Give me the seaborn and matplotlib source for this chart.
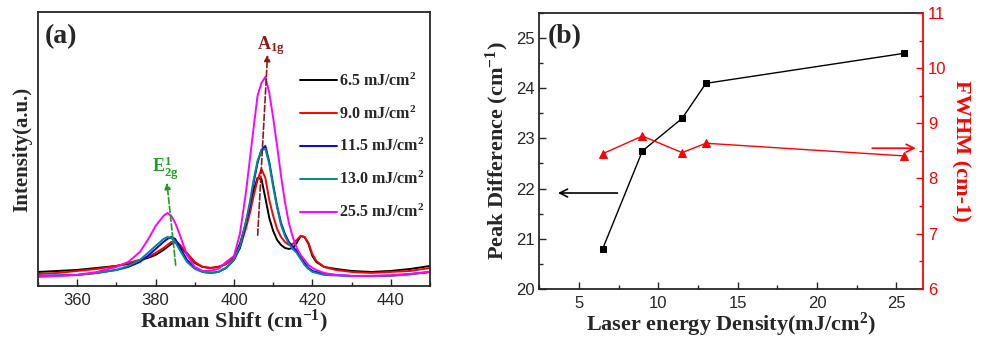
import numpy as np
import pandas as pd
import matplotlib
matplotlib.use("Agg")
import matplotlib.pyplot as plt
import seaborn as sns

# ---- panel (a): Raman spectra (a.u.)
shift = [350, 355, 360, 365, 370, 373, 376, 378, 380, 382, 383, 384, 385, 386,
         388, 390, 392, 394, 396, 398, 400, 401.5, 403, 404, 405, 406, 407, 408,
         409, 410, 411, 412, 413, 414, 415, 416, 417, 418, 419, 420, 421, 423,
         426, 430, 435, 440, 445, 450]

int_65 = [14, 15, 16, 18, 20, 22, 26, 28, 31, 36, 39, 42, 44, 41,
          32, 23, 19, 18, 19, 22, 29, 42, 62, 78, 95, 108, 107, 88,
          68, 55, 46, 41, 38, 37, 38, 43, 50, 49, 42, 30, 24, 19,
          17, 15, 14, 15, 17, 20]
int_90 = [12, 13, 15, 17, 20, 23, 26, 29, 33, 38, 41, 44, 45, 42,
          33, 24, 19, 18, 19, 22, 28, 38, 57, 72, 90, 106, 117, 108,
          86, 70, 57, 49, 44, 41, 42, 46, 50, 49, 43, 32, 25, 19,
          16, 14, 13, 14, 15, 18]
int_115 = [10, 10.5, 11, 13, 16, 19, 24, 30, 37, 44, 47, 49, 47, 40,
           26, 18, 14, 13, 14, 18, 26, 38, 62, 80, 103, 123, 136, 140,
           124, 101, 80, 63, 52, 44, 39, 35, 29, 23, 18, 15, 14, 12,
           11, 10, 10, 10.5, 12, 14]
int_130 = [10, 10.5, 11, 13, 16, 20, 26, 33, 40, 47, 49, 48, 44, 37,
           24, 17, 14, 13, 14, 18, 27, 40, 64, 83, 106, 125, 136, 137,
           122, 99, 78, 61, 50, 42, 37, 33, 27, 21, 17, 14, 13, 11,
           10.5, 10, 10, 10, 11.5, 14]
int_255 = [9, 10, 11, 14, 19, 24, 34, 46, 60, 70, 73, 70, 63, 53,
           31, 19, 15, 15, 17, 24, 30, 52, 92, 125, 158, 190, 203, 209,
           193, 168, 140, 110, 84, 63, 49, 38, 31, 26, 21, 18, 16, 13,
           11, 10, 10, 10.5, 12, 14]

labels = ["6.5 mJ/cm$^{\\mathrm{2}}$", "9.0 mJ/cm$^{\\mathrm{2}}$",
          "11.5 mJ/cm$^{\\mathrm{2}}$", "13.0 mJ/cm$^{\\mathrm{2}}$",
          "25.5 mJ/cm$^{\\mathrm{2}}$"]
colors = ["black", "red", "blue", "#008B8B", "magenta"]

# ---- panel (b)
density = [6.5, 9.0, 11.5, 13.0, 25.5]
peak_diff = [20.8, 22.75, 23.4, 24.1, 24.7]
fwhm = [8.45, 8.77, 8.47, 8.64, 8.41]

sns.set_style("ticks")
plt.rcParams['font.family'] = ['Liberation Sans', 'DejaVu Sans']
plt.rcParams['mathtext.fontset'] = 'custom'
plt.rcParams['mathtext.rm'] = 'Liberation Serif:bold'
plt.rcParams['mathtext.it'] = 'Liberation Serif:bold:italic'
plt.rcParams['mathtext.bf'] = 'Liberation Serif:bold'
plt.rcParams['xtick.direction'] = 'in'
plt.rcParams['ytick.direction'] = 'in'

serif = dict(family='Liberation Serif', weight='bold')
tick_fs = 12
lab_fs = 16

spec = pd.DataFrame({
    'shift': shift * 5,
    'intensity': int_65 + int_90 + int_115 + int_130 + int_255,
    'sample': sum([[lab] * len(shift) for lab in labels], []),
})

fig = plt.figure(figsize=(9.83, 3.38), dpi=100)
ax = fig.add_axes([0.0387, 0.154, 0.3987, 0.8105])
bx = fig.add_axes([0.5486, 0.146, 0.3907, 0.8148])

# ---------------- (a)
sns.lineplot(data=spec, x='shift', y='intensity', hue='sample',
             palette=colors, hue_order=labels, linewidth=1.4, ax=ax)
ax.set_xlim(350, 450)
ax.set_ylim(0, 274)
ax.set_yticks([])
ax.set_xticks([360, 380, 400, 420, 440])
ax.set_xticks(np.arange(350, 451, 10), minor=True)
ax.tick_params(axis='x', which='major', length=5, width=1, labelsize=tick_fs, pad=5)
ax.tick_params(axis='x', which='minor', length=3, width=1)
for s in ax.spines.values():
    s.set_linewidth(1.3)
ax.set_xlabel("Raman Shift (cm$^{\\mathrm{-1}}$)", fontsize=lab_fs, labelpad=0, **serif)
ax.set_ylabel("Intensity(a.u.)", fontsize=15, labelpad=4, **serif)
ax.text(0.018, 0.91, "(a)", transform=ax.transAxes, fontsize=20,
        va='center', ha='left', **serif)

handles, labs = ax.get_legend_handles_labels()
ax.legend(handles, labs, loc='upper left', bbox_to_anchor=(0.668, 0.78),
          frameon=False, borderaxespad=0, borderpad=0, handlelength=2.3,
          handletextpad=0.15, labelspacing=0.98,
          prop=dict(family='Liberation Serif', weight='bold', size=11.5))

ax.annotate('', xy=(382.8, 106), xytext=(385.2, 18),
            arrowprops=dict(arrowstyle='-|>', color='#1E9E1E', lw=1.2,
                            linestyle='--', mutation_scale=9))
ax.text(382.5, 118, "E$^{\\mathrm{1}}_{\\mathrm{2g}}$", color='#1E9E1E',
        fontsize=13, ha='center', va='center', **serif)
ax.annotate('', xy=(408.6, 234), xytext=(406.0, 48),
            arrowprops=dict(arrowstyle='-|>', color='#8B1A1A', lw=1.2,
                            linestyle='--', mutation_scale=9))
ax.text(409.3, 240, "A$_{\\mathrm{1g}}$", color='#8B1A1A',
        fontsize=13, ha='center', va='center', **serif)

# ---------------- (b)
sns.lineplot(x=density, y=peak_diff, marker='s', markersize=5, color='black',
             markeredgecolor='black', linewidth=1, ax=bx)
bx.set_xlim(2.6, 26.7)
bx.set_ylim(20, 25.5)
bx.set_xticks([5, 10, 15, 20, 25])
bx.set_xticks(np.arange(2.5, 27, 2.5), minor=True)
bx.set_yticks([20, 21, 22, 23, 24, 25])
bx.set_yticks(np.arange(20, 25.6, 0.5), minor=True)
bx.tick_params(axis='both', which='major', length=5, width=1, labelsize=tick_fs)
bx.tick_params(axis='both', which='minor', length=3, width=1)
bx.tick_params(axis='x', pad=5)
bx.set_xlabel("Laser energy Density(mJ/cm$^{\\mathrm{2}}$)", fontsize=lab_fs,
              labelpad=0, **serif)
bx.set_ylabel("Peak Difference (cm$^{\\mathrm{-1}}$)", fontsize=lab_fs,
              labelpad=3, **serif)
bx.text(0.023, 0.914, "(b)", transform=bx.transAxes, fontsize=20,
        va='center', ha='left', **serif)
bx.annotate('', xy=(3.5, 21.91), xytext=(7.6, 21.91),
            arrowprops=dict(arrowstyle='->', color='black', lw=1.2,
                            mutation_scale=14))

cx = bx.twinx()
sns.lineplot(x=density, y=fwhm, marker='^', markersize=6, color='red',
             markeredgecolor='red', linewidth=1, ax=cx)
cx.set_ylim(6, 11)
cx.set_yticks([6, 7, 8, 9, 10, 11])
cx.set_yticks(np.arange(6, 11.01, 0.5), minor=True)
cx.tick_params(axis='y', which='major', length=5, width=1, labelsize=tick_fs,
               colors='red', direction='in')
cx.tick_params(axis='y', which='minor', length=3, width=1, colors='red',
               direction='in')
cx.set_ylabel("FWHM (cm-1)", color='red', fontsize=lab_fs, rotation=270,
              labelpad=17, **serif)
cx.annotate('', xy=(26.4, 8.55), xytext=(23.3, 8.55),
            arrowprops=dict(arrowstyle='->', color='red', lw=1.2,
                            mutation_scale=14))
for s in bx.spines.values():
    s.set_linewidth(1.3)
for s in cx.spines.values():
    s.set_linewidth(1.3)
cx.spines['right'].set_color('red')
cx.spines['left'].set_visible(False)
cx.spines['top'].set_visible(False)
cx.spines['bottom'].set_visible(False)
bx.spines['right'].set_visible(False)

fig.savefig("out.png", dpi=100)
